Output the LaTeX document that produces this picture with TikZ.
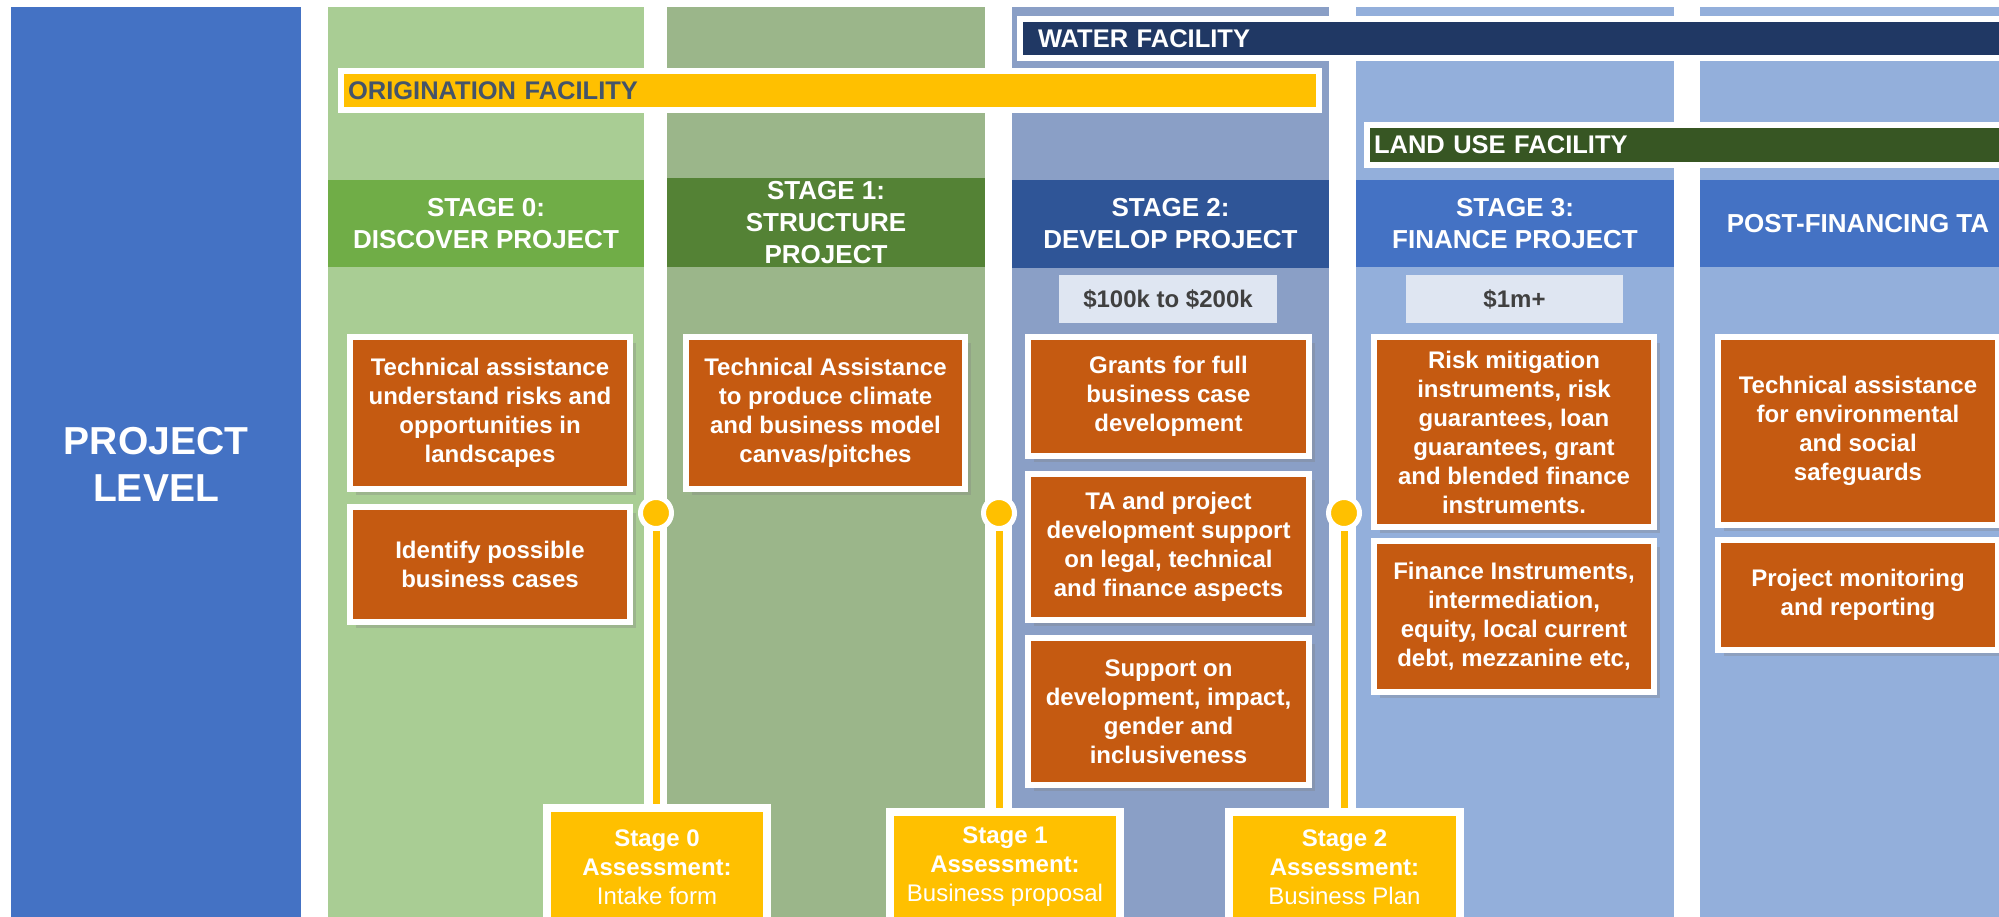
\documentclass[tikz,border=0pt]{standalone}
\usepackage{fontspec}
\setmainfont{Liberation Sans}
\usepackage{tikz}
\usetikzlibrary{shapes,shadows}
\definecolor{projblue}{HTML}{4472C4}
\definecolor{colA}{HTML}{A9CD94}
\definecolor{colB}{HTML}{9BB68A}
\definecolor{colC}{HTML}{8A9FC6}
\definecolor{colD}{HTML}{93AFDB}
\definecolor{hdA}{HTML}{70AD47}
\definecolor{hdB}{HTML}{548235}
\definecolor{hdC}{HTML}{2F5597}
\definecolor{hdD}{HTML}{4472C4}
\definecolor{taorange}{HTML}{C55A11}
\definecolor{asmyellow}{HTML}{FFC000}
\definecolor{waternavy}{HTML}{203864}
\definecolor{landgreen}{HTML}{375623}
\definecolor{slate}{HTML}{44546A}
\definecolor{moneybg}{HTML}{DFE6F2}
\definecolor{moneytxt}{HTML}{404040}

\begin{document}
\begin{tikzpicture}[x=1pt,y=-1pt,inner sep=0pt]
\tikzstyle{header}=[rectangle,text=white,align=center,font=\fontsize{26}{32}\selectfont\bfseries]
\tikzstyle{bar}=[rectangle,draw=white,line width=6,align=left,font=\fontsize{25.5}{30}\selectfont\bfseries]
\tikzstyle{money}=[rectangle,fill=moneybg,text=moneytxt,font=\fontsize{24}{29}\selectfont\bfseries]
\tikzstyle{task}=[rectangle,fill=taorange,draw=white,line width=6,text=white,align=center,minimum width=280,
  font=\fontsize{24}{29}\selectfont\bfseries,drop shadow={shadow xshift=6pt,shadow yshift=-6pt,opacity=.3}]
\tikzstyle{gate}=[circle,fill=asmyellow,draw=white,line width=5,minimum size=31]
\tikzstyle{assess}=[rectangle,fill=asmyellow,draw=white,line width=8,text=white,align=center,
  font=\fontsize{24}{29}\selectfont\bfseries]
\useasboundingbox (0,0) rectangle (1999,916);
\clip (0,0) rectangle (1999,916);
  \fill[white] (0,0) rectangle (1999,916);
  \node[rectangle,fill=projblue,minimum width=290,minimum height=915,text=white,align=center,
    font=\fontsize{39}{47}\selectfont\bfseries](projlevel) at (156,464.5){PROJECT\\LEVEL};
  \fill[colA] (328,7) rectangle (644,930);
  \fill[colB] (667,7) rectangle (985,930);
  \fill[colC] (1012,7) rectangle (1329,930);
  \fill[colD] (1356,7) rectangle (1674,930);
  \fill[colD] (1700,7) rectangle (2016,930);
  \node[header,fill=hdA,minimum width=316,minimum height=87](stage0) at (486,223.5){STAGE 0:\\DISCOVER PROJECT};
  \node[header,fill=hdB,minimum width=318,minimum height=89](stage1) at (826,222.5){STAGE 1:\\STRUCTURE\\PROJECT};
  \node[header,fill=hdC,minimum width=317,minimum height=88](stage2) at (1170.5,224){STAGE 2:\\DEVELOP PROJECT};
  \node[header,fill=hdD,minimum width=318,minimum height=87](stage3) at (1515,223.5){STAGE 3:\\FINANCE PROJECT};
  \node[header,fill=hdD,minimum width=316,minimum height=87](postfin) at (1858,223.5){POST-FINANCING TA};
  \node[bar,fill=waternavy,text=white,minimum width=1000,minimum height=39,inner xsep=18,text width=964](water) at (1520,38.5){WATER FACILITY};
  \node[bar,fill=asmyellow,text=slate,minimum width=978,minimum height=39,inner xsep=7,text width=964](origination) at (830,90.5){ORIGINATION FACILITY};
  \node[bar,fill=landgreen,text=white,minimum width=653,minimum height=40,inner xsep=7,text width=639](landuse) at (1693.5,145){LAND USE FACILITY};
  \node[money,minimum width=218,minimum height=48](money2) at (1168,299){\$100k to \$200k};
  \node[money,minimum width=217,minimum height=48](money3) at (1514.5,299){\$1m+};
  \node[task,minimum height=152](discover-a) at (490,413){Technical assistance\\understand risks and\\opportunities in\\landscapes};
  \node[task,minimum height=115](discover-b) at (490,564.5){Identify possible\\business cases};
  \node[task,minimum height=152,minimum width=279](structure-a) at (825.5,413){Technical Assistance\\to produce climate\\and business model\\canvas/pitches};
  \node[task,minimum height=119,minimum width=281](develop-a) at (1168.5,396.5){Grants for full\\business case\\development};
  \node[task,minimum height=146,minimum width=281](develop-b) at (1168.5,547){TA and project\\development support\\on legal, technical\\and finance aspects};
  \node[task,minimum height=147,minimum width=281](develop-c) at (1168.5,711.5){Support on\\development, impact,\\gender and\\inclusiveness};
  \node[task,minimum height=190](finance-a) at (1514,432){Risk mitigation\\instruments, risk\\guarantees, loan\\guarantees, grant\\and blended finance\\instruments.};
  \node[task,minimum height=151](finance-b) at (1514,616.5){Finance Instruments,\\intermediation,\\equity, local current\\debt, mezzanine etc,};
  \node[task,minimum height=188](post-a) at (1858,431){Technical assistance\\for environmental\\and social\\safeguards};
  \node[task,minimum height=110](post-b) at (1858,595){Project monitoring\\and reporting};
  \node[gate](gate0) at (656,513){};
  \node[gate](gate1) at (999,513){};
  \node[gate](gate2) at (1344,513){};
  \node[assess,minimum width=220,minimum height=118](assess0) at (657,867){Stage 0\\Assessment:\\\textmd{Intake form}};
  \node[assess,minimum width=230,minimum height=110](assess1) at (1005,867){Stage 1\\Assessment:\\\textmd{Business proposal}};
  \node[assess,minimum width=231,minimum height=110](assess2) at (1344.5,867){Stage 2\\Assessment:\\\textmd{Business Plan}};
  \draw[asmyellow,line width=7](gate0.south)--(gate0.south|-assess0.north);
  \draw[asmyellow,line width=7](gate1.south)--(gate1.south|-assess1.north);
  \draw[asmyellow,line width=7](gate2.south)--(gate2.south|-assess2.north);
\end{tikzpicture}
\end{document}
